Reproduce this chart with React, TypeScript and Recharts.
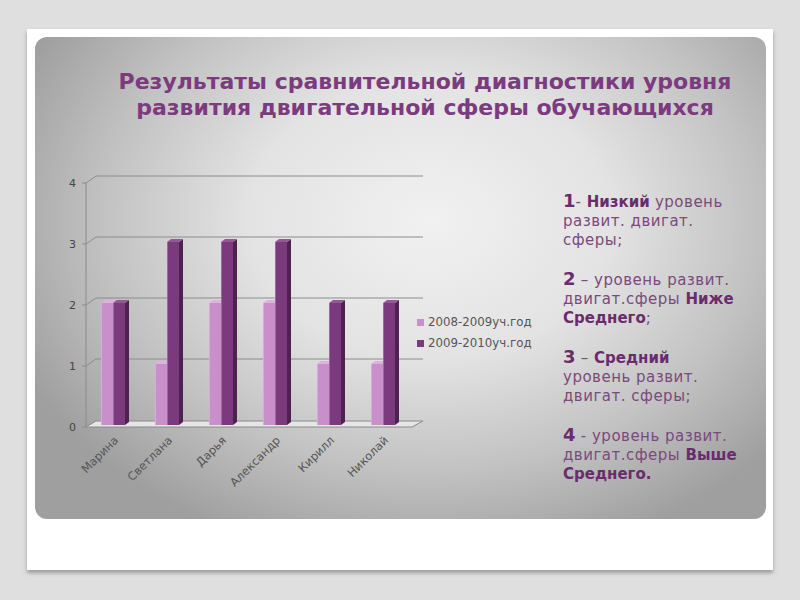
import { BarChart, Bar, XAxis, YAxis, CartesianGrid } from "recharts";

const NAMES = ["Марина", "Светлана", "Дарья", "Александр", "Кирилл", "Николай"];
const YEAR_2008 = [2, 1, 2, 2, 1, 1];
const YEAR_2009 = [2, 3, 3, 3, 2, 2];
const SERIES = ["2008-2009уч.год", "2009-2010уч.год"];
const Y_TICKS = [0, 1, 2, 3, 4];

const data = NAMES.map((name, i) => ({ name, a: YEAR_2008[i], b: YEAR_2009[i] }));

const LIGHT = { front: "#c98fcb", side: "#a86cab", top: "#ddb3de" };
const DARK = { front: "#7a3a7d", side: "#4e2150", top: "#97559a" };

const DX = 10; // depth of the back wall
const DY = 7;
const BD = 4; // depth of a bar
const BH = 3;

const FONT = "'DejaVu Sans', Verdana, sans-serif";
const PURPLE = "#7a4a7c";
const PURPLE_B = "#6b2c6e";

const bar3d = (c: { front: string; side: string; top: string }) => (p: any) => {
  const x = p.x;
  const y = p.y - 2;
  const w = p.width;
  const h = p.height;
  if (!h) return <g />;
  return (
    <g>
      <polygon
        points={`${x + w},${y} ${x + w + BD},${y - BH} ${x + w + BD},${y + h - BH} ${x + w},${y + h}`}
        fill={c.side}
      />
      <polygon
        points={`${x},${y} ${x + BD},${y - BH} ${x + w + BD},${y - BH} ${x + w},${y}`}
        fill={c.top}
      />
      <rect x={x} y={y} width={w} height={h} fill={c.front} />
      <line x1={x + 0.5} y1={y} x2={x + 0.5} y2={y + h} stroke="rgba(255,255,255,0.25)" />
    </g>
  );
};

const gridLine = (p: any) => {
  const { x1, y1, x2, y, height } = p;
  if (Math.abs(y1 - (y + height)) < 1) {
    return (
      <polygon
        key={p.key}
        points={`${x1},${y1} ${x1 + DX},${y1 - DY + 1} ${x2 + DX + 3},${y1 - DY + 1} ${x2 + 2},${y1}`}
        fill="#e6e6e6"
        stroke="#8a8a8a"
        strokeWidth={1}
      />
    );
  }
  return (
    <path
      key={p.key}
      d={`M${x1},${y1} L${x1 + DX},${y1 - DY} L${x2 + DX + 3},${y1 - DY}`}
      fill="none"
      stroke="#8c8c8c"
      strokeWidth={1}
    />
  );
};

const NameTick = (p: any) => {
  const tx = p.x + 6;
  const ty = p.y + 6;
  return (
    <text
      x={tx}
      y={ty}
      transform={`rotate(-45 ${tx} ${ty})`}
      textAnchor="end"
      fontSize={11.5}
      fill="#555"
      fontFamily={FONT}
    >
      {p.payload.value}
    </text>
  );
};

const B = ({ children, big }: { children: any; big?: boolean }) => (
  <span
    style={{
      fontWeight: "bold",
      color: PURPLE_B,
      letterSpacing: 0,
      fontSize: big ? 18 : undefined,
    }}
  >
    {children}
  </span>
);

export default function App() {
  return (
    <div
      style={{
        position: "fixed",
        left: 0,
        top: 0,
        width: 800,
        height: 600,
        overflow: "hidden",
        background: "#dfdfdf",
        fontFamily: FONT,
      }}
    >
      <div
        style={{
          position: "absolute",
          left: 27,
          top: 29,
          width: 746,
          height: 541,
          background: "#fff",
          boxShadow: "0 3px 4px rgba(0,0,0,0.3)",
        }}
      />
      <div
        style={{
          position: "absolute",
          left: 35,
          top: 37,
          width: 731,
          height: 482,
          borderRadius: 12,
          background:
            "radial-gradient(ellipse 62% 72% at 54% 38%, #f1f1f1 0%, #e3e3e3 40%, #c2c2c2 72%, #9f9f9f 100%)",
        }}
      />
      <div
        style={{
          position: "absolute",
          left: 75,
          top: 69,
          width: 700,
          textAlign: "center",
          fontSize: 22,
          lineHeight: "26px",
          fontWeight: "bold",
          color: "#7b3b7e",
        }}
      >
        Результаты сравнительной диагностики уровня
        <br />
        развития двигательной сферы обучающихся
      </div>

      <div style={{ position: "absolute", left: 0, top: 0 }}>
        <BarChart
          width={800}
          height={600}
          data={data}
          barGap={0}
          barSize={12}
          margin={{ top: 183, right: 390, bottom: 113, left: 56 }}
        >
          <CartesianGrid vertical={false} horizontal={gridLine} />
          <XAxis
            dataKey="name"
            height={60}
            axisLine={false}
            tickLine={false}
            interval={0}
            tick={<NameTick />}
          />
          <YAxis
            width={30}
            domain={[0, 4]}
            ticks={Y_TICKS}
            interval={0}
            tickSize={4}
            tickMargin={6}
            axisLine={{ stroke: "#8a8a8a" }}
            tickLine={{ stroke: "#8a8a8a" }}
            tick={{ fontSize: 11, fill: "#444", fontFamily: FONT }}
          />
          <Bar dataKey="a" name={SERIES[0]} shape={bar3d(LIGHT)} isAnimationActive={false} />
          <Bar dataKey="b" name={SERIES[1]} shape={bar3d(DARK)} isAnimationActive={false} />
        </BarChart>
      </div>

      <div
        style={{
          position: "absolute",
          left: 417,
          top: 312,
          fontSize: 11.8,
          lineHeight: "21px",
          color: "#555",
        }}
      >
        {SERIES.map((s, i) => (
          <div key={s} style={{ display: "flex", alignItems: "center" }}>
            <span
              style={{
                display: "inline-block",
                width: 7,
                height: 7,
                marginRight: 4,
                background: i === 0 ? LIGHT.front : DARK.front,
              }}
            />
            {s}
          </div>
        ))}
      </div>

      <div
        style={{
          position: "absolute",
          left: 563,
          top: 191,
          fontSize: 15,
          lineHeight: "19px",
          color: PURPLE,
          letterSpacing: 0.5,
          whiteSpace: "nowrap",
        }}
      >
        <B big>1</B>- <B>Низкий</B> уровень
        <br />
        развит. двигат.
        <br />
        сферы;
        <br />
        <br />
        <B big>2</B> – уровень развит.
        <br />
        двигат.сферы <B>Ниже</B>
        <br />
        <B>Среднего</B>;
        <br />
        <br />
        <B big>3</B> – <B>Средний</B>
        <br />
        уровень развит.
        <br />
        двигат. сферы;
        <br />
        <br />
        <B big>4</B> - уровень развит.
        <br />
        двигат.сферы <B>Выше</B>
        <br />
        <B>Среднего.</B>
      </div>
    </div>
  );
}
